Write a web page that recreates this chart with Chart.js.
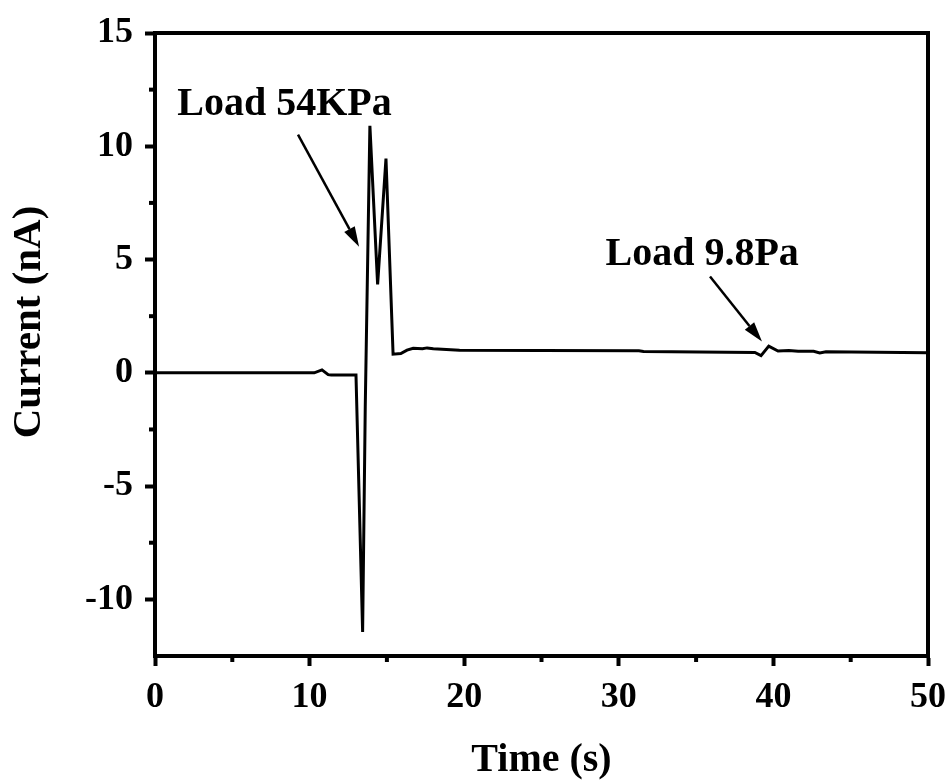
<!DOCTYPE html>
<html>
<head>
<meta charset="utf-8">
<script src="https://cdn.jsdelivr.net/npm/chart.js@4/dist/chart.umd.min.js"></script>
<style>
body{margin:0;background:#fff;}
canvas{display:block;}
</style>
</head>
<body>
<canvas id="currentChart" width="950" height="782"></canvas>
<script>
// trace
const times    = [0, 10.3, 10.8, 11.2, 11.4, 13.0, 13.43, 13.6, 13.9, 14.4, 14.94, 15.4, 15.9, 16.3, 16.7, 17.3, 17.6, 18.0, 19.7, 25, 31.3, 31.6, 38.8, 39.2, 39.7, 40.3, 41.0, 41.6, 42.6, 43.0, 43.4, 50];
const currents = [0, 0, 0.13, -0.08, -0.1, -0.1, -11.44, -1.5, 10.9, 3.9, 9.46, 0.82, 0.85, 1.0, 1.08, 1.06, 1.1, 1.06, 1.0, 0.98, 0.97, 0.94, 0.9, 0.76, 1.18, 0.96, 0.98, 0.95, 0.95, 0.88, 0.93, 0.89];

const xTicks = [0, 10, 20, 30, 40, 50];
const yTicks = [-10, -5, 0, 5, 10, 15];
const xMinor = [5, 15, 25, 35, 45];
const yMinor = [-7.5, -2.5, 2.5, 7.5, 12.5];

const notes = [
  {text: "Load 54KPa", tx: 8.38, ty: 11.39, from: [9.25, 10.51], to: [13.2, 5.57]},
  {text: "Load 9.8Pa", tx: 35.39, ty: 4.78, from: [35.9, 4.25], to: [39.26, 1.38]}
];

const FONT = "'Liberation Serif', 'Times New Roman', serif";

function arrow(c, x1, y1, x2, y2){
  const a = Math.atan2(y2 - y1, x2 - x1);
  const len = 20, w = 6;
  const bx = x2 - len * Math.cos(a), by = y2 - len * Math.sin(a);
  c.beginPath();
  c.moveTo(x1, y1);
  c.lineTo(bx, by);
  c.stroke();
  c.beginPath();
  c.moveTo(x2, y2);
  c.lineTo(bx + w * Math.sin(a), by - w * Math.cos(a));
  c.lineTo(bx - w * Math.sin(a), by + w * Math.cos(a));
  c.closePath();
  c.fill();
}

const extras = {
  id: "extras",
  afterDraw(chart){
    const c = chart.ctx;
    const a = chart.chartArea;
    const xs = chart.scales.x, ys = chart.scales.y;
    c.save();
    c.strokeStyle = "#000";
    c.fillStyle = "#000";

    // top and right of the frame
    c.lineWidth = 4;
    c.beginPath();
    c.moveTo(a.left - 2, a.top);
    c.lineTo(a.right, a.top);
    c.lineTo(a.right, a.bottom + 2);
    c.stroke();

    // minor ticks
    yMinor.forEach(v => {
      const y = ys.getPixelForValue(v);
      c.beginPath(); c.moveTo(a.left, y); c.lineTo(a.left - 6, y); c.stroke();
    });
    xMinor.forEach(v => {
      const x = xs.getPixelForValue(v);
      c.beginPath(); c.moveTo(x, a.bottom); c.lineTo(x, a.bottom + 6); c.stroke();
    });

    // annotations
    c.lineWidth = 2.5;
    c.font = "bold 40px " + FONT;
    c.textAlign = "center";
    c.textBaseline = "alphabetic";
    notes.forEach(n => {
      c.fillText(n.text, xs.getPixelForValue(n.tx), ys.getPixelForValue(n.ty));
      arrow(c, xs.getPixelForValue(n.from[0]), ys.getPixelForValue(n.from[1]),
               xs.getPixelForValue(n.to[0]), ys.getPixelForValue(n.to[1]));
    });

    // y title
    c.translate(29, 322);
    c.rotate(-Math.PI / 2);
    c.font = "bold 41px " + FONT;
    c.textBaseline = "middle";
    c.fillText("Current (nA)", 0, 0);
    c.restore();
  }
};

const ctx = document.getElementById("currentChart").getContext("2d");

new Chart(ctx, {
  type: "line",
  data: {
    datasets: [{
      data: times.map((t, i) => ({x: t, y: currents[i]})),
      borderColor: "#000",
      borderWidth: 3,
      pointRadius: 0,
      tension: 0,
      fill: false
    }]
  },
  options: {
    responsive: false,
    animation: false,
    layout: {padding: {top: 33, right: 22, left: 0, bottom: 0}},
    plugins: {legend: {display: false}, tooltip: {enabled: false}},
    scales: {
      x: {
        type: "linear",
        min: 0,
        max: 50,
        afterBuildTicks: s => { s.ticks = xTicks.map(v => ({value: v})); },
        afterFit: s => { s.height = 126; s.paddingLeft = 0; s.paddingRight = 0; },
        border: {display: true, color: "#000", width: 4},
        grid: {drawOnChartArea: false, drawTicks: true, tickLength: 10, tickWidth: 4, tickColor: "#000"},
        ticks: {color: "#000", padding: 10, maxRotation: 0, font: {family: FONT, size: 36, weight: "bold"}},
        title: {display: true, text: "Time (s)", color: "#000", padding: {top: 0, bottom: -3}, font: {family: FONT, size: 40, weight: "bold"}}
      },
      y: {
        min: -12.5,
        max: 15,
        afterBuildTicks: s => { s.ticks = yTicks.map(v => ({value: v})); },
        afterFit: s => { s.width = 155; s.paddingTop = 0; s.paddingBottom = 0; },
        border: {display: true, color: "#000", width: 4},
        grid: {drawOnChartArea: false, drawTicks: true, tickLength: 10, tickWidth: 4, tickColor: "#000"},
        ticks: {color: "#000", padding: 12, font: {family: FONT, size: 36, weight: "bold"}}
      }
    }
  },
  plugins: [extras]
});
</script>
</body>
</html>
